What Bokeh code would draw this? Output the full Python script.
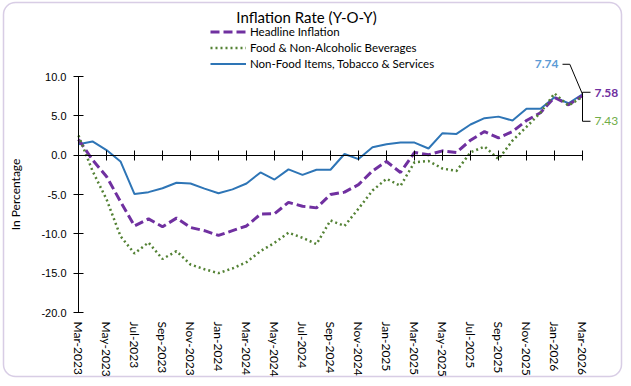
import math
from bokeh.plotting import figure
from bokeh.models import (Range1d, LinearAxis, FixedTicker, NumeralTickFormatter, Label,
                          Legend, LegendItem, BoxAnnotation, ColumnDataSource)
from bokeh.embed import file_html
from bokeh.resources import INLINE

# ---------------- data ----------------
months = ["Mar-2023", "Apr-2023", "May-2023", "Jun-2023", "Jul-2023", "Aug-2023", "Sep-2023",
          "Oct-2023", "Nov-2023", "Dec-2023", "Jan-2024", "Feb-2024", "Mar-2024", "Apr-2024",
          "May-2024", "Jun-2024", "Jul-2024", "Aug-2024", "Sep-2024", "Oct-2024", "Nov-2024",
          "Dec-2024", "Jan-2025", "Feb-2025", "Mar-2025", "Apr-2025", "May-2025", "Jun-2025",
          "Jul-2025", "Aug-2025", "Sep-2025", "Oct-2025", "Nov-2025", "Dec-2025", "Jan-2026",
          "Feb-2026", "Mar-2026"]

headline = [2.0, -0.6, -2.7, -5.9, -9.0, -8.1, -9.1, -8.0, -9.2, -9.6, -10.2, -9.6, -9.0,
            -7.5, -7.45, -6.0, -6.5, -6.7, -5.0, -4.7, -3.75, -2.0, -0.8, -2.2, 0.35, 0.05,
            0.55, 0.35, 1.9, 3.0, 2.2, 3.0, 4.4, 5.4, 7.35, 6.4, 7.58]

food = [2.5, -2.0, -5.6, -10.3, -12.5, -11.1, -13.2, -12.2, -13.9, -14.5, -15.0, -14.4,
        -13.6, -12.2, -11.15, -9.85, -10.5, -11.3, -8.3, -9.0, -6.8, -4.5, -3.0, -3.9, -0.9,
        -0.75, -1.7, -2.0, 0.35, 1.1, -0.5, 1.85, 3.6, 5.4, 7.85, 6.3, 7.43]

nonfood = [1.4, 1.75, 0.65, -0.8, -4.95, -4.7, -4.2, -3.5, -3.6, -4.25, -4.85, -4.35, -3.6,
           -2.2, -3.1, -1.8, -2.5, -1.85, -1.85, 0.15, -0.5, 1.0, 1.4, 1.6, 1.6, 0.85, 2.8,
           2.7, 3.9, 4.7, 4.9, 4.4, 5.9, 5.9, 7.35, 6.6, 7.74]

y_ticks = [-20, -15, -10, -5, 0, 5, 10]
x_tick_step = 2

series_names = ["Headline Inflation", "Food & Non-Alcoholic Beverages",
                "Non-Food Items, Tobacco & Services"]
title_text = "Inflation Rate (Y-O-Y)"

# ---------------- layout (canvas pixels) ----------------
W, H = 623, 378
x_px = 14.0               # pixels per month
y_px = 236.0 / 30.0       # pixels per percentage point
X0_PX = 78                # canvas x of first month
YTOP_PX = 76              # canvas y of top tick
x_start = -X0_PX / x_px
x_end = x_start + W / x_px
y_end = y_ticks[-1] + YTOP_PX / y_px
y_start = y_end - H / y_px

FONT = "Lato"
PURPLE = "#7030A0"
GREEN = "#548235"
BLUE = "#2E75B6"

p = figure(width=W, height=H, x_range=Range1d(x_start, x_end),
           y_range=Range1d(y_start, y_end), title=None,
           output_backend="svg", toolbar_location=None, min_border=0)
p.min_border_left = p.min_border_right = p.min_border_top = p.min_border_bottom = 0
p.xgrid.visible = False
p.ygrid.visible = False
p.outline_line_color = None
p.background_fill_color = "white"
p.border_fill_color = "white"

idx = list(range(len(months)))
src = ColumnDataSource(dict(x=idx, headline=headline, food=food, nonfood=nonfood))

r_non = p.line("x", "nonfood", source=src, color=BLUE, line_width=2)
r_head = p.line("x", "headline", source=src, color=PURPLE, line_width=3, line_dash="9 4")
r_food = p.line("x", "food", source=src, color=GREEN, line_width=2.5, line_dash="2 3")

# ---------------- axes ----------------
n = len(months) - 1
xt = list(range(0, len(months), x_tick_step))

p.xaxis.fixed_location = y_ticks[0]
p.xaxis.ticker = FixedTicker(ticks=xt)
p.xaxis.major_label_overrides = {i: months[i] for i in xt}
p.xaxis.axis_line_color = None
p.xaxis.major_tick_line_color = None
p.xaxis.minor_tick_line_color = None
p.xaxis.major_tick_out = 0
p.xaxis.major_tick_in = 0
p.xaxis.major_label_orientation = -math.pi / 2
p.xaxis.major_label_standoff = 9
p.xaxis.major_label_text_font = FONT
p.xaxis.major_label_text_font_size = "12px"
p.xaxis.major_label_text_color = "#000000"

zero_axis = LinearAxis(fixed_location=0, ticker=FixedTicker(ticks=xt), bounds=(0, n),
                       major_tick_in=5, major_tick_out=5, minor_tick_line_color=None,
                       major_label_overrides={i: "" for i in xt},
                       axis_line_color="black", major_tick_line_color="black")
p.add_layout(zero_axis, "below")

p.yaxis.fixed_location = 0
p.yaxis.bounds = (y_ticks[0], y_ticks[-1])
p.yaxis.ticker = FixedTicker(ticks=y_ticks)
p.yaxis.formatter = NumeralTickFormatter(format="0.0")
p.yaxis.major_tick_in = 5
p.yaxis.major_tick_out = 5
p.yaxis.minor_tick_line_color = None
p.yaxis.axis_line_color = "black"
p.yaxis.major_tick_line_color = "black"
p.yaxis.major_label_standoff = 7
p.yaxis.major_label_text_font = "Liberation Sans"
p.yaxis.major_label_text_font_size = "11px"
p.yaxis.major_label_text_color = "#000000"
p.yaxis.axis_label = "In Percentage"
p.yaxis.axis_label_text_font = FONT
p.yaxis.axis_label_text_font_style = "normal"
p.yaxis.axis_label_text_font_size = "12px"
p.yaxis.axis_label_text_color = "#000000"
p.yaxis.axis_label_standoff = 15

# ---------------- legend ----------------
legend = Legend(items=[LegendItem(label=series_names[0], renderers=[r_head]),
                       LegendItem(label=series_names[1], renderers=[r_food]),
                       LegendItem(label=series_names[2], renderers=[r_non])],
                location=(210, H - 71), padding=0, margin=0, spacing=1,
                glyph_width=36, glyph_height=15, label_height=15, label_standoff=4,
                background_fill_alpha=0, border_line_color=None,
                label_text_font=FONT, label_text_font_size="11.5px",
                label_text_color="#000000")
p.add_layout(legend)

# ---------------- title ----------------
p.add_layout(Label(x=306, y=H - 16, x_units="screen", y_units="screen",
                   text=title_text, text_align="center", text_baseline="middle",
                   text_font=FONT, text_font_size="15px", text_color="#000000"))

# ---------------- data labels ----------------
def lab(val, color, dx, dy, align, bold):
    return Label(x=n, y=val, text=f"{val:.2f}", x_offset=dx, y_offset=dy,
                 text_align=align, text_baseline="middle", text_font=FONT,
                 text_font_style="bold" if bold else "normal",
                 text_font_size="12px", text_color=color)

p.add_layout(lab(nonfood[-1], "#5B9BD5", -24, 30, "right", True))
p.add_layout(lab(headline[-1], PURPLE, 12, 3, "left", True))
p.add_layout(lab(food[-1], "#70AD47", 12, -24, "left", False))

ax, ay = n, nonfood[-1]
def off(dx, dy):
    return ax + dx / x_px, ay + dy / y_px

lead1 = [off(-20, 30), off(-12.7, 30), off(0, 0)]
lead2 = [off(8, 2), off(0, 2), off(0, -27), off(8, -27)]
p.multi_line(xs=[[a for a, b in lead1], [a for a, b in lead2]],
             ys=[[b for a, b in lead1], [b for a, b in lead2]],
             line_color="black", line_width=1)

# ---------------- chart border ----------------
p.add_layout(BoxAnnotation(left=3, right=W - 2, top=2, bottom=H - 2,
                           left_units="canvas", right_units="canvas",
                           top_units="canvas", bottom_units="canvas",
                           fill_alpha=0, line_color="#7F58A8", line_width=1.5,
                           border_radius=12, level="overlay"))

open("out.html", "w").write(file_html(p, INLINE))
